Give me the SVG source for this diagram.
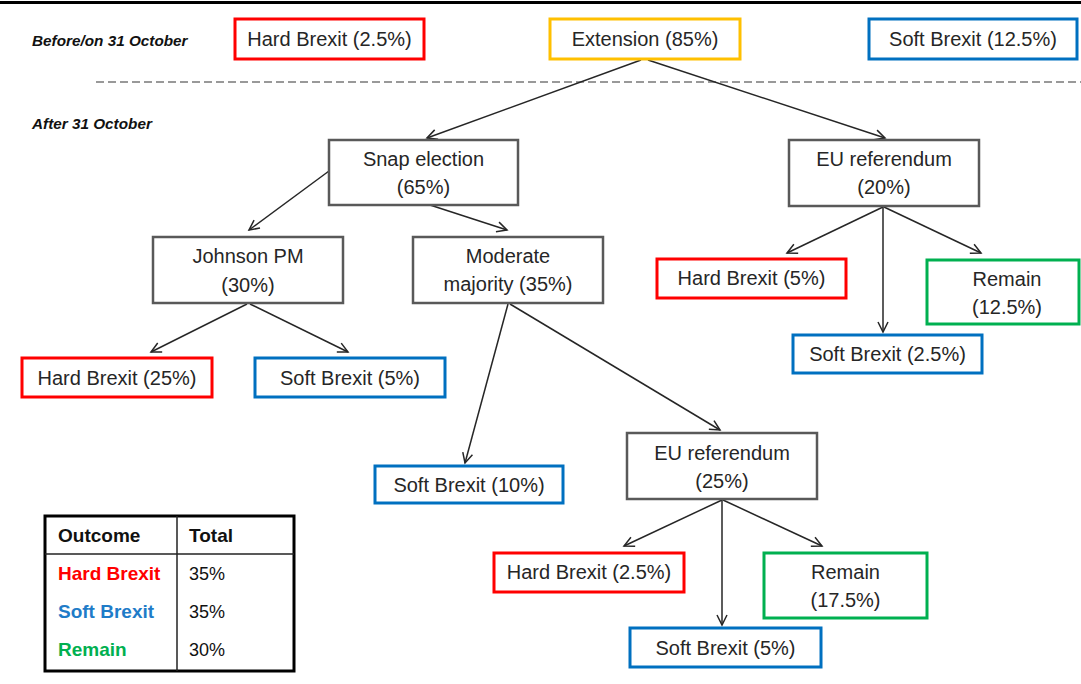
<svg xmlns="http://www.w3.org/2000/svg" width="1081" height="684" viewBox="0 0 1081 684">
<style>
.t{font-family:"Liberation Sans",Arial,sans-serif;font-size:20px;fill:#262626;text-anchor:middle}
.lbl{font-family:"Liberation Sans",Arial,sans-serif;font-size:15.3px;font-weight:bold;font-style:italic;fill:#111}
.g{fill:#fff;stroke:#595959;stroke-width:2.5}
.r{fill:#fff;stroke:#ff0000;stroke-width:3}
.b{fill:#fff;stroke:#0070c0;stroke-width:3}
.gr{fill:#fff;stroke:#00b050;stroke-width:3}
.y{fill:#fff;stroke:#ffc000;stroke-width:3}
.c{fill:none;stroke:#262626;stroke-width:1.5;marker-end:url(#ah)}
.tb{font-family:"Liberation Sans",Arial,sans-serif;font-size:18px;fill:#111}
.tbb{font-family:"Liberation Sans",Arial,sans-serif;font-size:19px;font-weight:bold}
</style>
<defs>
<marker id="ah" markerUnits="userSpaceOnUse" markerWidth="14" markerHeight="14" refX="11" refY="6" orient="auto">
<path d="M1,1 L11,6 L1,11" fill="none" stroke="#262626" stroke-width="1.5"/>
</marker>
</defs>
<rect x="0" y="0" width="1081" height="684" fill="#fff"/>
<rect x="0" y="1" width="1081" height="3" fill="#000"/>
<line x1="96" y1="82" x2="1081" y2="82" stroke="#999" stroke-width="2" stroke-dasharray="8,4"/>
<text class="lbl" x="32" y="46">Before/on 31 October</text>
<text class="lbl" x="32" y="129">After 31 October</text>

<g id="connectors">
<line class="c" x1="641" y1="60" x2="427" y2="138"/>
<line class="c" x1="648" y1="60" x2="885" y2="138"/>
<line class="c" x1="329" y1="171" x2="249" y2="230"/>
<line class="c" x1="430" y1="205" x2="507" y2="230"/>
<line class="c" x1="247" y1="304" x2="151" y2="352"/>
<line class="c" x1="250" y1="304" x2="348" y2="352"/>
<line class="c" x1="508" y1="304" x2="465" y2="463"/>
<line class="c" x1="510" y1="304" x2="720" y2="430"/>
<line class="c" x1="883" y1="207" x2="787" y2="253"/>
<line class="c" x1="883" y1="207" x2="883" y2="332"/>
<line class="c" x1="884" y1="207" x2="981" y2="253"/>
<line class="c" x1="722" y1="500" x2="624" y2="546"/>
<line class="c" x1="722" y1="500" x2="722" y2="625"/>
<line class="c" x1="723" y1="500" x2="822" y2="546"/>
</g>

<g id="hard-before">
<rect class="r" x="235" y="19" width="189" height="40"/>
<text class="t" x="329.5" y="46">Hard Brexit (2.5%)</text>
</g>
<g id="extension">
<rect class="y" x="550" y="19" width="190" height="40"/>
<text class="t" x="645" y="46">Extension (85%)</text>
</g>
<g id="soft-before">
<rect class="b" x="869" y="19" width="208" height="40"/>
<text class="t" x="973" y="46">Soft Brexit (12.5%)</text>
</g>

<g id="snap">
<rect class="g" x="329" y="140" width="189" height="65"/>
<text class="t" x="423.5" y="166">Snap election</text>
<text class="t" x="423.5" y="194">(65%)</text>
</g>
<g id="euref20">
<rect class="g" x="789" y="140" width="190" height="66"/>
<text class="t" x="884" y="166">EU referendum</text>
<text class="t" x="884" y="194">(20%)</text>
</g>
<g id="johnson">
<rect class="g" x="153" y="237" width="190" height="66"/>
<text class="t" x="248" y="263">Johnson PM</text>
<text class="t" x="248" y="292">(30%)</text>
</g>
<g id="moderate">
<rect class="g" x="413" y="237" width="190" height="66"/>
<text class="t" x="508" y="263">Moderate</text>
<text class="t" x="508" y="291">majority (35%)</text>
</g>
<g id="hard5">
<rect class="r" x="657" y="259" width="189" height="39"/>
<text class="t" x="751.5" y="285">Hard Brexit (5%)</text>
</g>
<g id="remain125">
<rect class="gr" x="927" y="260" width="152" height="64"/>
<text class="t" x="1007" y="286">Remain</text>
<text class="t" x="1007" y="314">(12.5%)</text>
</g>
<g id="soft25">
<rect class="b" x="793" y="335" width="189" height="38"/>
<text class="t" x="887.5" y="361">Soft Brexit (2.5%)</text>
</g>
<g id="hard25">
<rect class="r" x="22" y="358" width="190" height="39"/>
<text class="t" x="117" y="385">Hard Brexit (25%)</text>
</g>
<g id="soft5a">
<rect class="b" x="255" y="358" width="190" height="39"/>
<text class="t" x="350" y="385">Soft Brexit (5%)</text>
</g>
<g id="soft10">
<rect class="b" x="375" y="466" width="188" height="37"/>
<text class="t" x="469" y="492">Soft Brexit (10%)</text>
</g>
<g id="euref25">
<rect class="g" x="627" y="433" width="190" height="66"/>
<text class="t" x="722" y="460">EU referendum</text>
<text class="t" x="722" y="488">(25%)</text>
</g>
<g id="hard25b">
<rect class="r" x="494" y="553" width="190" height="39"/>
<text class="t" x="589" y="579">Hard Brexit (2.5%)</text>
</g>
<g id="remain175">
<rect class="gr" x="764" y="553" width="163" height="65"/>
<text class="t" x="845.5" y="579">Remain</text>
<text class="t" x="845.5" y="607">(17.5%)</text>
</g>
<g id="soft5b">
<rect class="b" x="630" y="628" width="191" height="39"/>
<text class="t" x="725.5" y="655">Soft Brexit (5%)</text>
</g>

<g id="table">
<rect x="45" y="516" width="249" height="155" fill="#fff" stroke="#000" stroke-width="3"/>
<line x1="45" y1="554" x2="294" y2="554" stroke="#222" stroke-width="1.5"/>
<line x1="177" y1="516" x2="177" y2="671" stroke="#222" stroke-width="1.5"/>
<text class="tbb" x="58" y="542" fill="#111">Outcome</text>
<text class="tbb" x="189" y="542" fill="#111">Total</text>
<text class="tbb" x="58" y="580" fill="#ff0000">Hard Brexit</text>
<text class="tbb" x="58" y="618" fill="#1f7cc8">Soft Brexit</text>
<text class="tbb" x="58" y="656" fill="#00b050">Remain</text>
<text class="tb" x="189" y="580">35%</text>
<text class="tb" x="189" y="618">35%</text>
<text class="tb" x="189" y="656">30%</text>
</g>
</svg>
